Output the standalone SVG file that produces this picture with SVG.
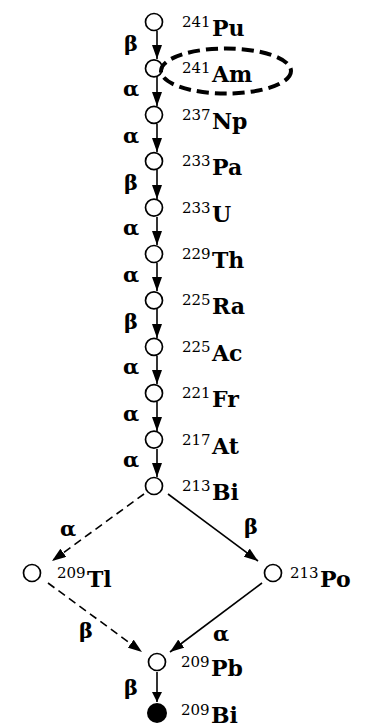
<svg xmlns="http://www.w3.org/2000/svg" width="381" height="727" viewBox="0 0 381 727">
<style>
.n{fill:#fff;stroke:#000;stroke-width:1.7}
.f{fill:#000}
.c{stroke:#000;stroke-width:1.6;fill:none}
.d{stroke-dasharray:8 5}
.g{font-family:"DejaVu Serif","Liberation Serif",serif;font-size:21px;fill:#000;font-weight:bold}
.s{font-family:"DejaVu Serif","Liberation Serif",serif;font-size:15px;fill:#000}
.e{font-family:"DejaVu Serif","Liberation Serif",serif;font-size:22px;fill:#000;font-weight:bold}
</style>
<defs>
<marker id="a" viewBox="0 0 10 10" refX="10" refY="5" markerWidth="10" markerHeight="10" markerUnits="userSpaceOnUse" orient="auto">
<path d="M0,0 L10,5 L0,10 Z" fill="#000"/>
</marker>
<marker id="b" viewBox="0 0 14 10" refX="14" refY="5" markerWidth="14" markerHeight="10" markerUnits="userSpaceOnUse" orient="auto">
<path d="M0,0 L14,5 L0,10 Z" fill="#000"/>
</marker>
</defs>
<rect width="381" height="727" fill="#fff"/>
<g id="connectors">
<line class="c" x1="157" y1="31" x2="157" y2="59" marker-end="url(#b)"/>
<line class="c" x1="157" y1="77" x2="157" y2="106" marker-end="url(#b)"/>
<line class="c" x1="157" y1="124" x2="157" y2="152" marker-end="url(#b)"/>
<line class="c" x1="157" y1="170" x2="157" y2="199" marker-end="url(#b)"/>
<line class="c" x1="157" y1="217" x2="157" y2="245" marker-end="url(#b)"/>
<line class="c" x1="157" y1="263" x2="157" y2="291" marker-end="url(#b)"/>
<line class="c" x1="157" y1="309" x2="157" y2="338" marker-end="url(#b)"/>
<line class="c" x1="157" y1="356" x2="157" y2="384" marker-end="url(#b)"/>
<line class="c" x1="157" y1="402" x2="157" y2="431" marker-end="url(#b)"/>
<line class="c" x1="157" y1="449" x2="157" y2="477" marker-end="url(#b)"/>
<line class="c d" x1="144" y1="494" x2="52" y2="561" marker-end="url(#b)"/>
<line class="c" x1="168" y1="494" x2="258" y2="561" marker-end="url(#b)"/>
<line class="c d" x1="48" y1="583" x2="142" y2="652" marker-end="url(#b)"/>
<line class="c" x1="262" y1="583" x2="170" y2="652" marker-end="url(#b)"/>
<line class="c" x1="157" y1="672" x2="157" y2="702" marker-end="url(#a)"/>
<text class="g" x="124" y="51">β</text>
<text class="g" x="123" y="96">α</text>
<text class="g" x="123" y="143">α</text>
<text class="g" x="124" y="190">β</text>
<text class="g" x="123" y="235">α</text>
<text class="g" x="123" y="282">α</text>
<text class="g" x="124" y="329">β</text>
<text class="g" x="123" y="374">α</text>
<text class="g" x="123" y="421">α</text>
<text class="g" x="123" y="467">α</text>
<text class="g" x="60" y="536">α</text>
<text class="g" x="244" y="534">β</text>
<text class="g" x="79" y="638">β</text>
<text class="g" x="213" y="641">α</text>
<text class="g" x="124" y="695">β</text>
</g>
<g id="Pu241"><circle class="n" cx="154" cy="22" r="8.5"/><text x="182" y="27"><tspan class="s">241</tspan><tspan class="e" x="212" y="36">Pu</tspan></text></g>
<g id="Am241"><circle class="n" cx="154" cy="68.4" r="8.5"/><text x="182" y="73.4"><tspan class="s">241</tspan><tspan class="e" x="212" y="82.4">Am</tspan></text>
<ellipse cx="226" cy="71" rx="65" ry="22.5" fill="none" stroke="#000" stroke-width="4" stroke-dasharray="12 6"/></g>
<g id="Np237"><circle class="n" cx="154" cy="114.8" r="8.5"/><text x="182" y="119.8"><tspan class="s">237</tspan><tspan class="e" x="212" y="128.8">Np</tspan></text></g>
<g id="Pa233"><circle class="n" cx="154" cy="161.2" r="8.5"/><text x="182" y="166.2"><tspan class="s">233</tspan><tspan class="e" x="212" y="175.2">Pa</tspan></text></g>
<g id="U233"><circle class="n" cx="154" cy="207.6" r="8.5"/><text x="182" y="212.6"><tspan class="s">233</tspan><tspan class="e" x="212" y="221.6">U</tspan></text></g>
<g id="Th229"><circle class="n" cx="154" cy="254" r="8.5"/><text x="182" y="259"><tspan class="s">229</tspan><tspan class="e" x="212" y="268">Th</tspan></text></g>
<g id="Ra225"><circle class="n" cx="154" cy="300.4" r="8.5"/><text x="182" y="305.4"><tspan class="s">225</tspan><tspan class="e" x="212" y="314.4">Ra</tspan></text></g>
<g id="Ac225"><circle class="n" cx="154" cy="346.8" r="8.5"/><text x="182" y="351.8"><tspan class="s">225</tspan><tspan class="e" x="212" y="360.8">Ac</tspan></text></g>
<g id="Fr221"><circle class="n" cx="154" cy="393.2" r="8.5"/><text x="182" y="398.2"><tspan class="s">221</tspan><tspan class="e" x="212" y="407.2">Fr</tspan></text></g>
<g id="At217"><circle class="n" cx="154" cy="439.6" r="8.5"/><text x="182" y="444.6"><tspan class="s">217</tspan><tspan class="e" x="212" y="453.6">At</tspan></text></g>
<g id="Bi213"><circle class="n" cx="154" cy="486" r="8.5"/><text x="182" y="491"><tspan class="s">213</tspan><tspan class="e" x="212" y="500">Bi</tspan></text></g>
<g id="Tl209"><circle class="n" cx="32" cy="573" r="8.5"/><text x="57" y="578"><tspan class="s">209</tspan><tspan class="e" x="87" y="587">Tl</tspan></text></g>
<g id="Po213"><circle class="n" cx="273" cy="573" r="8.5"/><text x="290" y="578"><tspan class="s">213</tspan><tspan class="e" x="320" y="587">Po</tspan></text></g>
<g id="Pb209"><circle class="n" cx="157" cy="662" r="8.5"/><text x="181" y="667"><tspan class="s">209</tspan><tspan class="e" x="211" y="676">Pb</tspan></text></g>
<g id="Bi209"><circle class="f" cx="157" cy="713" r="10"/><text x="181" y="715"><tspan class="s">209</tspan><tspan class="e" x="211" y="723">Bi</tspan></text></g>
</svg>
